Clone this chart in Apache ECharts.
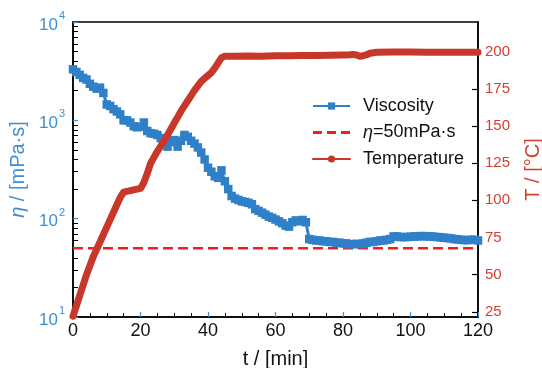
<!DOCTYPE html>
<html>
<head>
<meta charset="utf-8">
<script src="https://cdn.jsdelivr.net/npm/echarts@6/dist/echarts.min.js"></script>
<style>
  html, body { margin: 0; padding: 0; background: #fff; }
  #chart { width: 542px; height: 368px; }
</style>
</head>
<body>
<div id="chart"></div>
<script>
// Viscosity readings (mPa·s), one per minute
const viscTime = [0,1,2,3,4,5,6,7,8,9,10,11,12,13,14,15,16,17,18,19,20,21,22,23,24,25,26,27,28,29,30,31,32,33,34,35,36,37,38,39,40,41,42,43,44,45,46,47,48,49,50,51,52,53,54,55,56,57,58,59,60,61,62,63,64,65,66,67,68,69,70,71,72,73,74,75,76,77,78,79,80,81,82,83,84,85,86,87,88,89,90,91,92,93,94,95,96,97,98,99,100,101,102,103,104,105,106,107,108,109,110,111,112,113,114,115,116,117,118,119,120];
const viscosity = [3300,3100,2900,2700,2600,2350,2200,2100,2150,1900,
  1450,1400,1300,1230,1150,1000,1000,950,870,850,
  860,950,780,740,730,710,660,600,540,600,
  630,540,620,710,680,620,580,530,470,400,
  330,300,270,260,310,240,200,170,160,155,
  150,148,145,140,125,120,115,110,105,102,
  98,94,90,85,83,92,96,94,97,92,
  62,61,60,60,59,59,58,58,57,57,
  56,56,55,55,55.5,55,56,57,58,58,
  59,60,60,61,62,66,66,65,65,65,
  65.5,66,66,66.5,66.5,66,66,65.5,65,64.5,
  64,63.5,63,62,61.5,61,60.5,60.5,61,61,
  60];

// Temperature program (°C)
const tempTime = [0,1,2,3,4,5,6,7,8,9,10,11,12,13,14,15,16,17,18,19,20,21,22,23,24,25,26,27,28,29,30,31,32,33,34,35,36,37,38,39,40,41,42,43,44,45,48,52,56,60,64,68,72,76,80,82,83,84,85,86,87,88,90,95,100,105,110,115,120];
const temperature = [22,29,36,43,50,56,62,67,72,77,82,87,92,97,102,105.5,106,106.5,107,107.5,108,112,118,125,129,133,136.5,140,144,148,152,156,160,163.5,167,170.5,174,177,180,182,184,186,189,192.5,196,197,197,197.2,197,197.3,197.3,197.5,197.4,197.6,197.8,197.9,198.2,197.8,197,197.3,198,199,199.6,199.8,199.8,199.7,199.7,199.6,199.6];

// Reference level
const limitName = 'η=50mPa·s';
const limitValue = 50;

// Axis ticks
const etaDecades = [10,100,1000,10000];
const etaMinor = [20,30,40,50,60,70,80,90,200,300,400,500,600,700,800,900,2000,3000,4000,5000,6000,7000,8000,9000];
const tempTicks = [25,50,75,100,125,150,175,200];

const FONT = 'Liberation Sans, Arial, sans-serif';
const BLUE = '#2f80c8';
const BLUE_TXT = '#3c8fd4';
const RED = '#c8382a';
const RED_TXT = '#d2402f';
const DASH = '#f41c1c';

const chart = echarts.init(document.getElementById('chart'), null, { renderer: 'canvas' });

const pairs = (xs, ys) => xs.map((x, i) => [x, ys[i]]);

chart.setOption({
  animation: false,
  textStyle: { fontFamily: FONT },
  grid: {
    left: 73, right: 64, top: 22, bottom: 51,
    outerBoundsMode: 'none', containLabel: false,
    show: true, borderColor: '#000', borderWidth: 1.5, backgroundColor: 'transparent'
  },
  legend: {
    orient: 'vertical',
    left: 307, top: 92,
    itemWidth: 37, itemHeight: 9, itemGap: 8.5,
    textStyle: {
      fontSize: 18, color: '#111', fontFamily: FONT, padding: [0, 0, 0, 8],
      rich: { i: { fontStyle: 'italic', fontSize: 18, color: '#111', fontFamily: FONT } }
    },
    lineStyle: { width: 2 },
    formatter: n => n === limitName ? '{i|η}=50mPa·s' : n,
    data: [
      { name: 'Viscosity' },
      { name: limitName, icon: 'path://M0,0H0.01V0.01H0Z M36.99,8.99H37V9H36.99Z M0,3H9V6H0Z M14,3H23V6H14Z M28,3H37V6H28Z' },
      { name: 'Temperature' }
    ]
  },
  xAxis: {
    type: 'value', min: 0, max: 120, interval: 20,
    name: 't / [min]', nameLocation: 'middle', nameGap: 32,
    nameTextStyle: { fontSize: 20, color: '#111', fontFamily: FONT },
    axisLine: { lineStyle: { color: '#000', width: 1.5 } },
    axisTick: { inside: true, length: 5, lineStyle: { color: BLUE_TXT, width: 1.2 } },
    minorTick: { show: true, splitNumber: 4, length: 4, lineStyle: { color: '#000', width: 1 } },
    axisLabel: { fontSize: 18, color: '#111', margin: 5, fontFamily: FONT },
    splitLine: { show: false }
  },
  yAxis: [
    {
      type: 'log', logBase: 10, min: 10, max: 10000, position: 'left',
      name: '{i|η} / [mPa·s]', nameLocation: 'middle', nameGap: 42,
      nameTextStyle: {
        fontSize: 20, color: BLUE_TXT, fontFamily: FONT,
        rich: { i: { fontStyle: 'italic', fontSize: 20, color: BLUE_TXT, fontFamily: FONT } }
      },
      axisLine: { show: true, lineStyle: { color: '#000', width: 1.5 } },
      axisTick: { inside: true, length: 5, customValues: etaDecades, lineStyle: { color: BLUE_TXT, width: 1.2 } },
      axisLabel: {
        margin: 8, customValues: etaDecades,
        formatter: v => '{b|10}{e|' + Math.round(Math.log10(v)) + '}',
        rich: {
          b: { fontSize: 17, color: BLUE_TXT, fontFamily: FONT, verticalAlign: 'bottom' },
          e: { fontSize: 11, color: BLUE_TXT, fontFamily: FONT, verticalAlign: 'top', padding: [0, 0, 12, 1] }
        }
      },
      splitLine: { show: false }
    },
    {
      type: 'value', min: 21.5, max: 220, position: 'right',
      name: 'T / [°C]', nameLocation: 'middle', nameGap: 45,
      nameTextStyle: { fontSize: 20, color: RED_TXT, fontFamily: FONT },
      axisLine: { show: true, lineStyle: { color: '#000', width: 1.5 } },
      axisTick: { inside: true, length: 6, customValues: tempTicks, lineStyle: { color: '#000', width: 1.2 } },
      axisLabel: { fontSize: 15, color: RED_TXT, margin: 7, customValues: tempTicks, fontFamily: FONT },
      splitLine: { show: false }
    },
    {
      // minor ticks of the logarithmic viscosity axis
      type: 'log', logBase: 10, min: 10, max: 10000, position: 'left',
      axisLine: { show: false },
      axisTick: { inside: true, length: 5, customValues: etaMinor, lineStyle: { color: '#000', width: 1 } },
      axisLabel: { show: false, customValues: etaMinor },
      splitLine: { show: false }
    }
  ],
  series: [
    {
      name: 'Viscosity', type: 'line', yAxisIndex: 0, z: 3,
      data: pairs(viscTime, viscosity),
      symbol: 'rect', symbolSize: 8.5, showSymbol: true,
      itemStyle: { color: BLUE },
      lineStyle: { color: BLUE, width: 3 }
    },
    {
      name: limitName, type: 'line', yAxisIndex: 0, z: 2,
      data: [[0, limitValue], [120, limitValue]],
      symbol: 'none',
      itemStyle: { color: DASH },
      lineStyle: { color: DASH, width: 2.5, type: [10, 5] }
    },
    {
      name: 'Temperature', type: 'line', yAxisIndex: 1, z: 4,
      data: pairs(tempTime, temperature),
      symbol: 'circle', symbolSize: 7, showSymbol: false,
      itemStyle: { color: RED },
      lineStyle: { color: RED, width: 7, cap: 'round', join: 'round' }
    }
  ]
});
</script>
</body>
</html>
